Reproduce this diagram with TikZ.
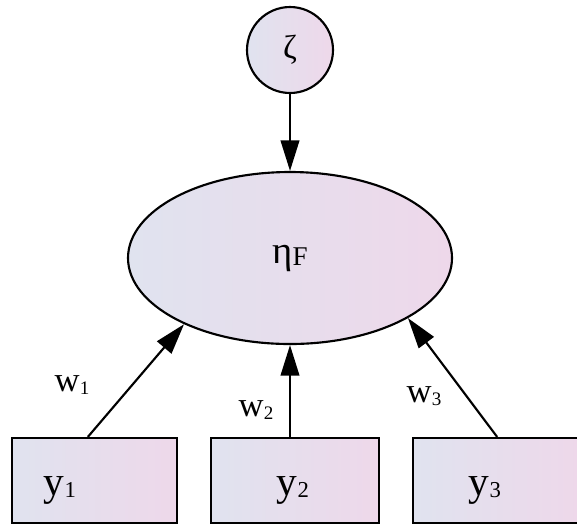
\documentclass[tikz,border=0pt]{standalone}
\usepackage{fontspec}
\setmainfont{Liberation Serif}
\usetikzlibrary{shapes.geometric,arrows.meta}

\definecolor{leftfill}{HTML}{E0E3EF}
\definecolor{rightfill}{HTML}{EED8EA}

\newcommand{\lowsub}[2][0.55]{\raisebox{-0.15ex}{\scalebox{#1}{#2}}}

\tikzset{
    varfill/.style={draw=black, line width=1.6pt, left color=leftfill, right color=rightfill},
    latent/.style={varfill, ellipse, inner sep=0pt},
    errorvar/.style={varfill, circle, inner sep=0pt, minimum size=64.5pt},
    indicator/.style={varfill, rectangle, inner sep=0pt, minimum height=63.75pt},
    path/.style={line width=1.6pt, -{Triangle[length=23pt, width=14pt]}},
    weight/.style={font=\fontsize{26}{26}\selectfont},
    varlab/.style={font=\fontsize{31}{31}\selectfont}
}

\begin{document}
\begin{tikzpicture}[x=0.75pt, y=-0.75pt]
                \useasboundingbox (0,0) rectangle (577,526);

                % Draw the disturbance
                \node[errorvar] (zeta) at (290,50) {};
                \node[font=\fontsize{25}{25}\selectfont] at (zeta.center) {ζ};

                % Draw the composite
                \node[latent, minimum width=243pt, minimum height=129pt] (eta) at (290,258) {};
                \node[font=\fontsize{29}{29}\selectfont] at (eta.center) {η\lowsub[0.7]{F}};

                % Draw the indicators
                \node[indicator, minimum width=123.75pt] (y1) at (94.5,480.5) {};
                \node[indicator, minimum width=126pt] (y2) at (295,480.5) {};
                \node[indicator, minimum width=125pt] (y3) at (496.5,480.5) {};

                \node[varlab] at (60,490) {y\lowsub{1}};
                \node[varlab] at (293,490) {y\lowsub{2}};
                \node[varlab] at (485,490) {y\lowsub{3}};

                % Draw the paths
                \draw[path] (zeta) -- (eta);
                \draw[path] ([xshift=-5pt]y1.north) -- (eta.212);
                \draw[path] (y2.north -| eta.south) -- (eta.south);
                \draw[path] ([xshift=0.5pt]y3.north) -- (eta.333);

                % Draw the weights
                \node[weight] at (72,385) {w\lowsub{1}};
                \node[weight] at (256,410) {w\lowsub{2}};
                \node[weight] at (424,396) {w\lowsub{3}};

            \end{tikzpicture}
\end{document}
